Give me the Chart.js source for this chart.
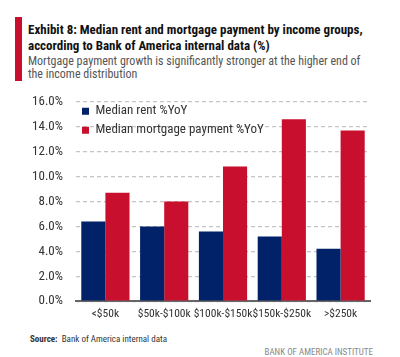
<!DOCTYPE html>
<html>
<head>
<meta charset="utf-8">
<script src="https://cdn.jsdelivr.net/npm/chart.js@4"></script>
<style>
  html, body { margin:0; padding:0; background:#fff; }
  body { width:400px; height:357px; position:relative; overflow:hidden; font-family:"Roboto Condensed","Liberation Sans Narrow",sans-serif; }
  #rule { position:absolute; left:15px; top:17px; width:7px; height:64px; background:#c8102e; }
  #title { position:absolute; left:28px; top:22px; font-weight:bold; font-size:13px; line-height:15.6px; color:#111; white-space:nowrap; }
  #sub { position:absolute; left:28px; top:54.5px; font-size:12px; line-height:13.6px; color:#555; white-space:nowrap; }
  #wrap { position:absolute; left:0; top:81px; width:400px; height:247px; }
  #source { position:absolute; left:30px; top:334px; font-size:9px; line-height:11px; color:#333; white-space:nowrap; }
  #inst { position:absolute; right:27px; top:346.5px; font-size:9px; line-height:11px; color:#888; white-space:nowrap; }
</style>
</head>
<body>
<div id="rule"></div>
<div id="title">Exhibit 8: Median rent and mortgage payment by income groups,<br>according to Bank of America internal data (%)</div>
<div id="sub">Mortgage payment growth is significantly stronger at the higher end of<br>the income distribution</div>
<div id="wrap"><canvas id="c"></canvas></div>
<div id="source"><b>Source:</b>&nbsp; Bank of America internal data</div>
<div id="inst">BANK OF AMERICA INSTITUTE</div>
<script>
const categories = ["<$50k", "$50k-$100k", "$100k-$150k", "$150k-$250k", ">$250k"];
const rentYoY = [6.4, 6.0, 5.6, 5.2, 4.2];
const mortgageYoY = [8.7, 8.0, 10.8, 14.6, 13.7];
const seriesNames = ["Median rent %YoY", "Median mortgage payment %YoY"];
const yTicks = [0, 2, 4, 6, 8, 10, 12, 14, 16];

const FONT = "'Roboto Condensed','Liberation Sans Narrow',sans-serif";

new Chart(document.getElementById('c'), {
  type: 'bar',
  data: {
    labels: categories,
    datasets: [
      { label: seriesNames[0], data: rentYoY, backgroundColor: '#012169', borderWidth: 0 },
      { label: seriesNames[1], data: mortgageYoY, backgroundColor: '#c8102e', borderWidth: 0 }
    ]
  },
  options: {
    responsive: true,
    maintainAspectRatio: false,
    animation: false,
    devicePixelRatio: 1,
    layout: { padding: { top: 5, right: 30, bottom: 1, left: 0 } },
    datasets: { bar: { categoryPercentage: 0.82, barPercentage: 1.0 } },
    plugins: {
      title: { display: false },
      tooltip: { enabled: false },
      legend: {
        position: 'chartArea',
        align: 'start',
        title: { display: true, text: '', font: { size: 1 }, padding: { top: 16.5, bottom: 0 } },
        labels: {
          boxWidth: 7, boxHeight: 7, padding: 6,
          color: '#333',
          font: { family: FONT, size: 13 }
        }
      }
    },
    scales: {
      x: {
        grid: { display: false, drawTicks: false },
        border: { display: true, color: '#666', width: 2 },
        ticks: { color: '#333', font: { family: FONT, size: 11.5 }, maxRotation: 0, autoSkip: false, padding: 6 }
      },
      y: {
        min: 0, max: 16,
        afterFit(scale) { scale.width = 76; },
        afterBuildTicks(scale) { scale.ticks = yTicks.map(v => ({ value: v })); },
        border: { display: false, dash: [4, 3] },
        grid: { color: '#c4c4c4', lineWidth: 1.2, drawTicks: false },
        ticks: {
          color: '#333', padding: 13,
          font: { family: FONT, size: 13 },
          callback: v => v.toFixed(1) + '%'
        }
      }
    }
  }
});
</script>
</body>
</html>
